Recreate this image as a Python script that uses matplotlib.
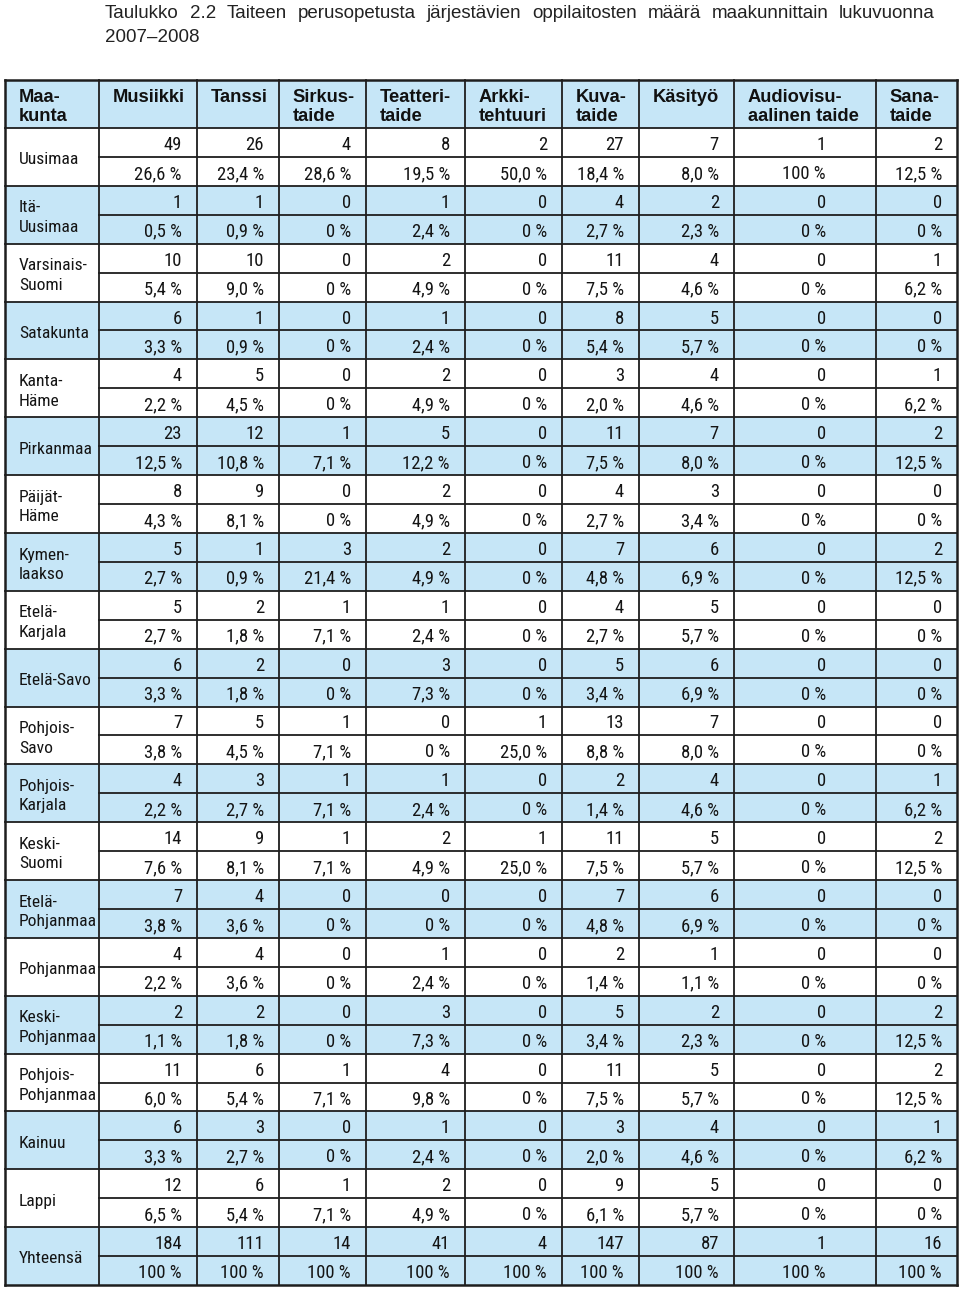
import matplotlib.pyplot as plt
from matplotlib.patches import Rectangle
from matplotlib import font_manager

# taulukon sisältö
title1 = "Taulukko 2.2 Taiteen perusopetusta järjestävien oppilaitosten määrä maakunnittain lukuvuonna"
title2 = "2007\u20132008"

headers = ["Maa-\nkunta", "Musiikki", "Tanssi", "Sirkus-\ntaide", "Teatteri-\ntaide",
           "Arkki-\ntehtuuri", "Kuva-\ntaide", "Käsityö", "Audiovisu-\naalinen taide", "Sana-\ntaide"]

regions = ["Uusimaa", "Itä-\nUusimaa", "Varsinais-\nSuomi", "Satakunta", "Kanta-\nHäme",
           "Pirkanmaa", "Päijät-\nHäme", "Kymen-\nlaakso", "Etelä-\nKarjala", "Etelä-Savo",
           "Pohjois-\nSavo", "Pohjois-\nKarjala", "Keski-\nSuomi", "Etelä-\nPohjanmaa",
           "Pohjanmaa", "Keski-\nPohjanmaa", "Pohjois-\nPohjanmaa", "Kainuu", "Lappi", "Yhteensä"]

counts = [
    [49, 26, 4, 8, 2, 27, 7, 1, 2],
    [1, 1, 0, 1, 0, 4, 2, 0, 0],
    [10, 10, 0, 2, 0, 11, 4, 0, 1],
    [6, 1, 0, 1, 0, 8, 5, 0, 0],
    [4, 5, 0, 2, 0, 3, 4, 0, 1],
    [23, 12, 1, 5, 0, 11, 7, 0, 2],
    [8, 9, 0, 2, 0, 4, 3, 0, 0],
    [5, 1, 3, 2, 0, 7, 6, 0, 2],
    [5, 2, 1, 1, 0, 4, 5, 0, 0],
    [6, 2, 0, 3, 0, 5, 6, 0, 0],
    [7, 5, 1, 0, 1, 13, 7, 0, 0],
    [4, 3, 1, 1, 0, 2, 4, 0, 1],
    [14, 9, 1, 2, 1, 11, 5, 0, 2],
    [7, 4, 0, 0, 0, 7, 6, 0, 0],
    [4, 4, 0, 1, 0, 2, 1, 0, 0],
    [2, 2, 0, 3, 0, 5, 2, 0, 2],
    [11, 6, 1, 4, 0, 11, 5, 0, 2],
    [6, 3, 0, 1, 0, 3, 4, 0, 1],
    [12, 6, 1, 2, 0, 9, 5, 0, 0],
    [184, 111, 14, 41, 4, 147, 87, 1, 16],
]

shares = [
    [26.6, 23.4, 28.6, 19.5, 50.0, 18.4, 8.0, 100, 12.5],
    [0.5, 0.9, 0, 2.4, 0, 2.7, 2.3, 0, 0],
    [5.4, 9.0, 0, 4.9, 0, 7.5, 4.6, 0, 6.2],
    [3.3, 0.9, 0, 2.4, 0, 5.4, 5.7, 0, 0],
    [2.2, 4.5, 0, 4.9, 0, 2.0, 4.6, 0, 6.2],
    [12.5, 10.8, 7.1, 12.2, 0, 7.5, 8.0, 0, 12.5],
    [4.3, 8.1, 0, 4.9, 0, 2.7, 3.4, 0, 0],
    [2.7, 0.9, 21.4, 4.9, 0, 4.8, 6.9, 0, 12.5],
    [2.7, 1.8, 7.1, 2.4, 0, 2.7, 5.7, 0, 0],
    [3.3, 1.8, 0, 7.3, 0, 3.4, 6.9, 0, 0],
    [3.8, 4.5, 7.1, 0, 25.0, 8.8, 8.0, 0, 0],
    [2.2, 2.7, 7.1, 2.4, 0, 1.4, 4.6, 0, 6.2],
    [7.6, 8.1, 7.1, 4.9, 25.0, 7.5, 5.7, 0, 12.5],
    [3.8, 3.6, 0, 0, 0, 4.8, 6.9, 0, 0],
    [2.2, 3.6, 0, 2.4, 0, 1.4, 1.1, 0, 0],
    [1.1, 1.8, 0, 7.3, 0, 3.4, 2.3, 0, 12.5],
    [6.0, 5.4, 7.1, 9.8, 0, 7.5, 5.7, 0, 12.5],
    [3.3, 2.7, 0, 2.4, 0, 2.0, 4.6, 0, 6.2],
    [6.5, 5.4, 7.1, 4.9, 0, 6.1, 5.7, 0, 0],
    [100, 100, 100, 100, 100, 100, 100, 100, 100],
]


def pct(v):
    if v == 0 or v == 100:
        return f"{int(v)} %"
    return f"{v:.1f}".replace(".", ",") + " %"


# asettelu (pikseleinä)
col_edges = [5, 99, 197, 279, 366, 465, 562, 639, 734, 876, 957]
right_x = [e - 15 for e in col_edges[2:]]
right_x[7] = 826  # audiovisuaalinen on siirretty vasemmalle
head_top, head_bot, tab_bot = 80, 128, 1285
row_h = (tab_bot - head_bot) / len(regions)

blue = "#c6e6f7"
line_c = "#1e1e1e"
txt_c = "#141414"

names = {f.name for f in font_manager.fontManager.ttflist}
narrow = next((n for n in ["Roboto Condensed", "Archivo Narrow", "PT Sans Narrow", "DejaVu Sans"]
               if n in names), "DejaVu Sans")
wide = "Liberation Sans" if "Liberation Sans" in names else "DejaVu Sans"
fs_body = 13.4
fs_label = 12.6

fig = plt.figure(figsize=(9.6, 12.9), dpi=100)
ax = fig.add_axes([0, 0, 1, 1])
ax.set_xlim(0, 960)
ax.set_ylim(1290, 0)
ax.axis("off")

left, right = col_edges[0], col_edges[-1]

# taustat
ax.add_patch(Rectangle((left, head_top), right - left, head_bot - head_top, fc=blue, ec="none"))
for i in range(len(regions)):
    if i % 2 == 1:
        ax.add_patch(Rectangle((left, head_bot + i * row_h), right - left, row_h, fc=blue, ec="none"))

lw = 1.3
# vaakaviivat
ax.plot([left, right], [head_top, head_top], color=line_c, lw=1.8)
ax.plot([left, right], [tab_bot, tab_bot], color=line_c, lw=1.8)
for i in range(len(regions)):
    y0 = head_bot + i * row_h
    ax.plot([left, right], [y0, y0], color=line_c, lw=lw)
    ax.plot([col_edges[1], right], [y0 + row_h / 2] * 2, color=line_c, lw=lw)
# pystyviivat
for j, x in enumerate(col_edges):
    ax.plot([x, x], [head_top, tab_bot], color=line_c,
            lw=1.8 if j in (0, len(col_edges) - 1) else lw)

# otsikkorivi
for j, h in enumerate(headers):
    for k, part in enumerate(h.split("\n")):
        ax.text(col_edges[j] + 13.5, 102 + 19 * k, part, fontsize=13.2, fontweight="bold",
                family=wide, va="baseline", ha="left", color="#111111")

# solut
for i, reg in enumerate(regions):
    y0 = head_bot + i * row_h
    yc = y0 + row_h / 2
    parts = reg.split("\n")
    base = yc + 7.4 if len(parts) == 1 else yc - 2.3
    for k, part in enumerate(parts):
        ax.text(19, base + 19.5 * k, part, fontsize=fs_label, family=narrow,
                va="baseline", ha="left", color=txt_c)
    for j in range(9):
        ax.text(right_x[j], y0 + row_h / 4 + 7.5, str(counts[i][j]), fontsize=fs_body,
                family=narrow, va="baseline", ha="right", color=txt_c)
        ax.text(right_x[j], y0 + 3 * row_h / 4 + 7.5, pct(shares[i][j]), fontsize=fs_body,
                family=narrow, va="baseline", ha="right", color=txt_c)

# otsikko, ensimmäinen rivi tasattuna molempiin reunoihin
words = title1.split(" ")
tx0, tx1 = 105, 935
renderer = fig.canvas.get_renderer()
objs = [ax.text(0, 18.5, w, fontsize=13.5, family=wide, va="baseline", ha="left", color="#222222")
        for w in words]
widths = [o.get_window_extent(renderer).width for o in objs]
gap = (tx1 - tx0 - sum(widths)) / (len(words) - 1)
x = tx0
for o, w in zip(objs, widths):
    o.set_x(x)
    x += w + gap
ax.text(tx0, 41.5, title2, fontsize=13.5, family=wide, va="baseline", ha="left", color="#222222")

fig.savefig("out.png", dpi=100)
